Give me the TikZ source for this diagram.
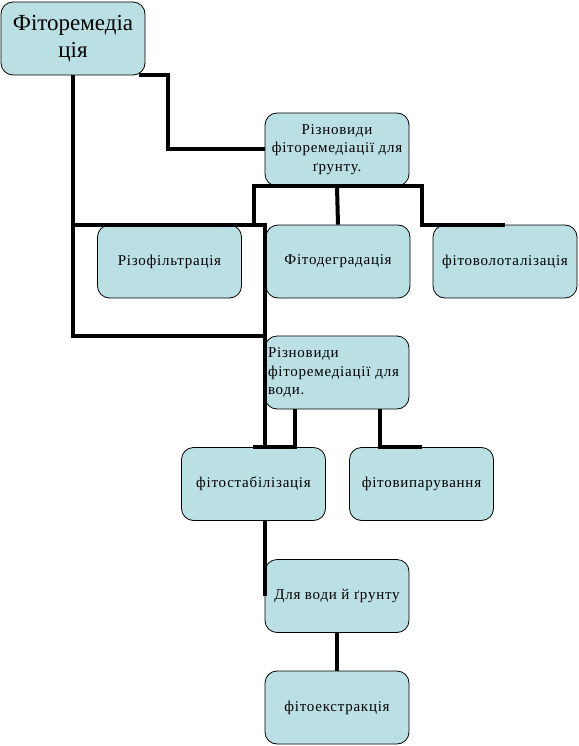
\documentclass[tikz,border=0pt]{standalone}
\usepackage{fontspec}
\setmainfont{Liberation Serif}
\definecolor{boxfill}{RGB}{187,224,228}

\begin{document}
\begin{tikzpicture}[x=1pt,y=-1pt,
  box/.style={draw,line width=0.8pt,fill=boxfill,rounded corners=12pt,
    minimum width=144pt,minimum height=73pt,inner sep=2pt,align=center,
    font=\fontsize{15}{18.5}\selectfont\addfontfeatures{LetterSpace=5}},
  link/.style={line width=4pt}]
\useasboundingbox (0,0) rectangle (578,746);
% boxes
\node[box,font=\fontsize{23}{27}\selectfont] (root) at (73,38.5) {Фіторемедіа\\ція};
\node[box] (soil) at (337,149.5) {Різновиди\\фіторемедіації для\\ґрунту.};
\node[box] (rhizo) at (169.5,261.5) {Різофільтрація};
\node[box] (degr) at (338,261.5) {Фітодеградація};
\node[box] (volat) at (505,261.5) {фітоволоталізація};
\node[box,align=left,text width=138pt] (water) at (337,372.5) {Різновиди\\фіторемедіації для\\води.};
\node[box] (stab) at (253.5,484) {фітостабілізація};
\node[box] (evap) at (421.5,484) {фітовипарування};
\node[box] (both) at (337,596) {Для води й ґрунту};
\node[box] (extr) at (337,707.5) {фітоекстракція};
% root links
\draw[link] ([xshift=-6]root.south east) -- ++(29,0) |- (soil.west);
\draw[link] (root.south) |- (water.north west);
\draw[link] (rhizo.north -| root.south) -- (rhizo.north -| water.west) -- (water.west |- stab.north);
% soil links
\draw[link] (soil.south) -- (degr.north);
\draw[link] ([xshift=-12]degr.north west) |- (soil.south) -| ([xshift=12]degr.north east) -- ++(83,0);
% water links
\draw[link] ([xshift=-42]water.south) |- ([xshift=-84]water.south |- stab.north);
\draw[link] ([xshift=43]water.south) |- (evap.north);
% lower links
\draw[link] (both.west |- stab.south) -- (both.west);
\draw[link] (both.south) -- (extr.north);
\end{tikzpicture}
\end{document}
